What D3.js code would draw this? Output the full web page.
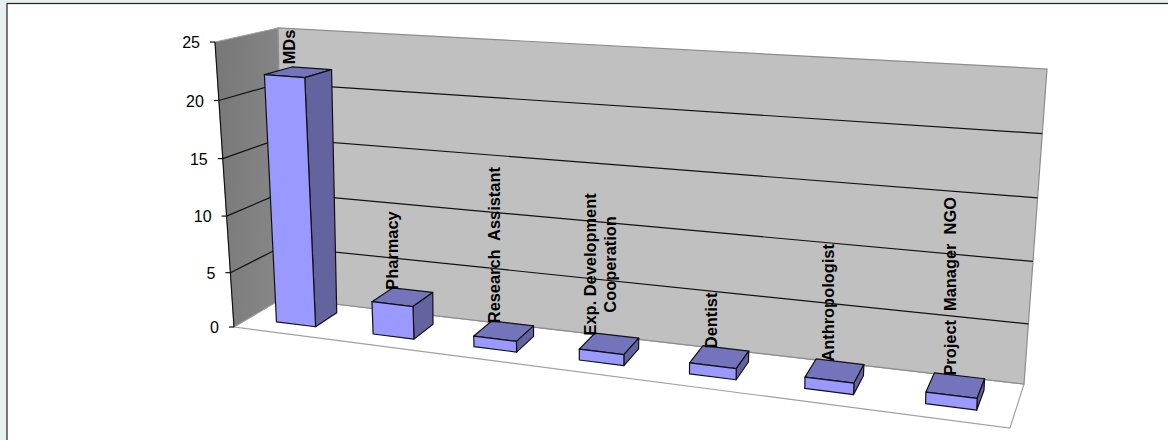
<!DOCTYPE html>
<html>
<head>
<meta charset="utf-8">
<script src="https://cdnjs.cloudflare.com/ajax/libs/d3/7.8.5/d3.min.js"></script>
<style>
html, body { margin: 0; padding: 0; background: #fff; }
svg { display: block; }
text { font-family: "Liberation Sans", Arial, sans-serif; fill: #000; }
</style>
</head>
<body>
<svg id="chart" width="1168" height="440"></svg>
<script>
const categories = [
    ['MDs'],
    ['Pharmacy'],
    ['Research  Assistant'],
    ['Exp. Development', 'Cooperation'],
    ['Dentist'],
    ['Anthropologist'],
    ['Project  Manager  NGO']
];
const values = [22, 3, 1, 1, 1, 1, 1];
const yTicks = [0, 5, 10, 15, 20, 25];

const svg = d3.select('#chart');

// page frame, runs off the right and bottom of the window
svg.append('rect').attr('width', 1168).attr('height', 440).attr('fill', '#e8eff0');
svg.append('rect').attr('x', 7).attr('y', 3.5).attr('width', 1180).attr('height', 460)
    .attr('fill', '#fff').attr('stroke', '#222').attr('stroke-width', 1.2);

// 3d box of the plot, [x, y] of the corners
const box = {
    fbl: [234, 327], fbr: [1010, 428], ftl: [215, 42], ftr: [1019, 103],
    bbl: [283, 298], bbr: [1024, 384], btl: [278, 28], btr: [1047, 69]
};

// u left to right, v bottom to top, w front to back, all 0..1
function project(u, v, w) {
    const mix = (a, b, t) => [a[0] + (b[0] - a[0]) * t, a[1] + (b[1] - a[1]) * t];
    const front = mix(mix(box.fbl, box.fbr, u), mix(box.ftl, box.ftr, u), v);
    const back = mix(mix(box.bbl, box.bbr, u), mix(box.btl, box.btr, u), v);
    return mix(front, back, w);
}

const yScale = d3.scalePow().exponent(1.03).domain([0, 25]).range([0, 1]);
const xBand = d3.scaleBand().domain(d3.range(categories.length)).range([0, 1])
    .paddingInner(0.59).paddingOuter(0.295);
const zNear = 0.3, zFar = 0.76;

// bars get wider to the right, the box is seen in perspective
const persp = t => 0.855 * t / (1 - 0.145 * t);

const line = d3.line();
const poly = pts => line(pts) + 'Z';

// walls
const defs = svg.append('defs');
const grad = defs.append('linearGradient').attr('id', 'sideWall')
    .attr('x1', 0).attr('y1', 0).attr('x2', 1).attr('y2', 0.25);
grad.append('stop').attr('offset', 0).attr('stop-color', '#777777');
grad.append('stop').attr('offset', 1).attr('stop-color', '#868686');

svg.append('path')
    .attr('d', poly([project(0, 0, 0), project(1, 0, 0), project(1, 0, 1), project(0, 0, 1)]))
    .attr('fill', '#fff').attr('stroke', '#a0a0a0').attr('stroke-width', 1.2);
svg.append('path')
    .attr('d', poly([project(0, 0, 0), project(0, 1, 0), project(0, 1, 1), project(0, 0, 1)]))
    .attr('fill', 'url(#sideWall)').attr('stroke', '#a0a0a0').attr('stroke-width', 1);
svg.append('path')
    .attr('d', poly([project(0, 0, 1), project(0, 1, 1), project(1, 1, 1), project(1, 0, 1)]))
    .attr('fill', '#c0c0c0').attr('stroke', '#8c8c8c').attr('stroke-width', 1.2);

// gridlines on both walls, except 0 and 25 on the back
svg.append('g').selectAll('path').data(yTicks).join('path')
    .attr('d', d => {
        const v = yScale(d);
        return line([project(0, v, 0), project(0, v, 1), project(1, v, 1)]);
    })
    .attr('fill', 'none')
    .attr('stroke', d => (d === 0 || d === 25) ? 'none' : '#111')
    .attr('stroke-width', 1.2);

// value axis
svg.append('path').attr('d', line([project(0, 0, 0), project(0, 1, 0)]))
    .attr('stroke', '#111').attr('stroke-width', 1.2).attr('fill', 'none');
const tick = svg.append('g').selectAll('g').data(yTicks).join('g')
    .attr('transform', d => `translate(${project(0, yScale(d), 0)})`);
tick.append('line').attr('x1', -5).attr('x2', 0).attr('stroke', '#111').attr('stroke-width', 1.2);
tick.append('text').attr('x', -15).attr('dy', '0.38em').attr('text-anchor', 'end')
    .style('font-size', '16px').text(d => d);

// bars
const bars = svg.append('g').selectAll('g').data(values).join('g')
    .attr('stroke', '#111').attr('stroke-width', 1.2).attr('stroke-linejoin', 'round');
function barCorners(d, i) {
    const u0 = persp(xBand(i)), u1 = persp(xBand(i) + xBand.bandwidth());
    return { u0, u1, v: yScale(d) };
}
bars.append('path').attr('fill', '#7474bd').attr('d', (d, i) => {
    const { u0, u1, v } = barCorners(d, i);
    return poly([project(u0, v, zNear), project(u1, v, zNear), project(u1, v, zFar), project(u0, v, zFar)]);
});
bars.append('path').attr('fill', '#63639f').attr('d', (d, i) => {
    const { u1, v } = barCorners(d, i);
    return poly([project(u1, 0, zNear), project(u1, v, zNear), project(u1, v, zFar), project(u1, 0, zFar)]);
});
bars.append('path').attr('fill', '#9999ff').attr('d', (d, i) => {
    const { u0, u1, v } = barCorners(d, i);
    return poly([project(u0, 0, zNear), project(u1, 0, zNear), project(u1, v, zNear), project(u0, v, zNear)]);
});

// category labels, standing on the back edge of each bar
const labels = svg.append('g').selectAll('g').data(categories).join('g')
    .attr('transform', (c, i) => {
        const mid = persp(xBand(i) + xBand.bandwidth() / 2);
        const v = yScale(values[i]);
        const x = project(mid, v / 2, zNear)[0] - 1;
        const y = project(mid, v, zFar)[1] - 4.5 * v;
        return `translate(${x},${y}) rotate(-90)`;
    });
labels.each(function (c) {
    const g = d3.select(this);
    const texts = g.selectAll('text').data(c).join('text')
        .attr('y', (d, j) => (j - (c.length - 1) / 2) * 20)
        .attr('dy', '0.35em')
        .style('font-size', '16.4px')
        .style('font-weight', 'bold')
        .style('white-space', 'pre')
        .text(d => d);
    const widest = d3.max(texts.nodes(), n => n.getComputedTextLength());
    texts.attr('x', widest / 2).attr('text-anchor', 'middle');
});
</script>
</body>
</html>
